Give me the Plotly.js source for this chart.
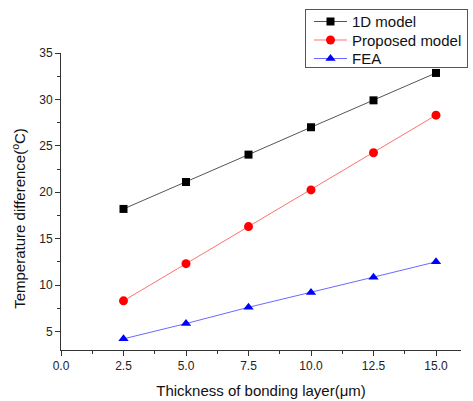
<!DOCTYPE html>
<html>
<head>
<meta charset="utf-8">
<script src="https://cdn.plot.ly/plotly-3.0.1.min.js"></script>
<style>html,body{margin:0;padding:0;background:#fff}#chart{width:473px;height:401px}</style>
</head>
<body>
<div id="chart"></div>
<script>
var thickness = [2.5, 5.0, 7.5, 10.0, 12.5, 15.0];
var model1D = [18.2, 21.1, 24.05, 27.0, 29.9, 32.85];
var proposed = [8.3, 12.3, 16.3, 20.25, 24.25, 28.3];
var fea = [4.2, 5.85, 7.6, 9.2, 10.85, 12.5];

var traces = [
  {x: thickness, y: model1D, name: '1D model', mode: 'lines+markers',
   line: {color: '#555555', width: 1}, marker: {symbol: 'square', size: 8, color: '#000000'}},
  {x: thickness, y: proposed, name: 'Proposed model', mode: 'lines+markers',
   line: {color: '#ff7070', width: 1}, marker: {symbol: 'circle', size: 9, color: '#ff0000'}},
  {x: thickness, y: fea, name: 'FEA', mode: 'lines+markers',
   line: {color: '#6a6aff', width: 1}, marker: {symbol: 'triangle-up', size: 9, color: '#0000ff'}}
];

var axisCommon = {
  showgrid: false, zeroline: false, showline: true, linecolor: '#333333', linewidth: 1,
  ticks: 'outside', ticklen: 5, tickcolor: '#333333', tickwidth: 1,
  tickfont: {family: 'Liberation Sans, Arial, sans-serif', size: 12, color: '#222222'}
};

var layout = {
  width: 473, height: 401,
  margin: {l: 61, r: 12, t: 53, b: 51, autoexpand: false},
  paper_bgcolor: '#ffffff', plot_bgcolor: '#ffffff',
  showlegend: true,
  legend: {x: 0.61, y: 1.1, xanchor: 'left', yanchor: 'top',
    bordercolor: '#555555', borderwidth: 1, bgcolor: '#ffffff',
    font: {family: 'Liberation Sans, Arial, sans-serif', size: 15, color: '#111111'},
    tracegroupgap: 0, itemwidth: 33},
  xaxis: Object.assign({}, axisCommon, {
    range: [0, 16], tickvals: [0, 2.5, 5, 7.5, 10, 12.5, 15],
    ticktext: ['0.0', '2.5', '5.0', '7.5', '10.0', '12.5', '15.0'],
    minor: {ticks: 'outside', ticklen: 3, tickcolor: '#333333', dtick: 1.25, tick0: 0},
    title: {text: 'Thickness of bonding layer(μm)', standoff: 13,
      font: {family: 'Liberation Sans, Arial, sans-serif', size: 15, color: '#111111'}}
  }),
  yaxis: Object.assign({}, axisCommon, {
    range: [3, 35], tickvals: [5, 10, 15, 20, 25, 30, 35],
    minor: {ticks: 'outside', ticklen: 3, tickcolor: '#333333', dtick: 2.5, tick0: 0},
    title: {text: 'Temperature difference(<sup>o</sup>C)', standoff: 9,
      font: {family: 'Liberation Sans, Arial, sans-serif', size: 15, color: '#111111'}}
  })
};

function adjust(){
  // place and tighten the legend to match the reference box
  var leg = document.querySelector('.legend');
  if (leg) leg.setAttribute('transform', 'translate(305,9)');
  var items = document.querySelectorAll('.legend .traces');
  var gap = 18.5, y0 = 12.5;
  items.forEach(function(el, i){
    el.setAttribute('transform', 'translate(4,' + (y0 + i*gap) + ')');
  });
  var bg = document.querySelector('.legend .bg');
  if (bg) { bg.setAttribute('height', 58); bg.setAttribute('width', 162); }
  // the reference y title sits slightly below the plot-area centre
  var g = document.querySelector('.g-ytitle');
  if (g) g.setAttribute('transform', 'translate(0,17)');
}

var gd = document.getElementById('chart');
Plotly.newPlot(gd, traces, layout, {displayModeBar: false, staticPlot: true}).then(function(){
  adjust();
  gd.on('plotly_afterplot', adjust);
  setTimeout(adjust, 30);
});
</script>
</body>
</html>
